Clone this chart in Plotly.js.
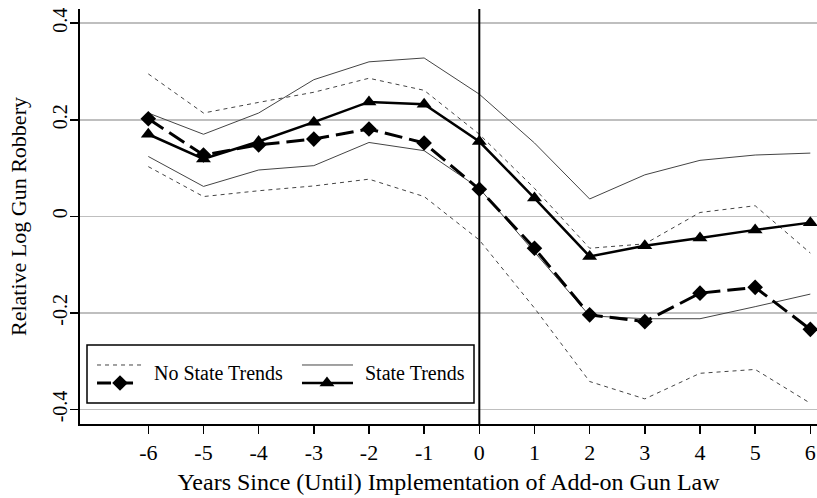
<!DOCTYPE html>
<html>
<head>
<meta charset="utf-8">
<script src="https://cdn.plot.ly/plotly-3.0.1.min.js"></script>
<style>html,body{margin:0;padding:0;background:#fff;}#chart{width:817px;height:498px;}</style>
</head>
<body>
<div id="chart"></div>
<script>
// Years relative to implementation
var years = [-6, -5, -4, -3, -2, -1, 0, 1, 2, 3, 4, 5, 6];
var xTickLabels = ['-6', '-5', '-4', '-3', '-2', '-1', '0', '1', '2', '3', '4', '5', '6'];
var yTickVals = [-0.4, -0.2, 0, 0.2, 0.4];
var yTickLabels = ['-0.4', '-0.2', '0', '0.2', '0.4'];

// No State Trends: estimate and confidence bounds
var noTrendEst   = [0.202, 0.127, 0.148, 0.160, 0.181, 0.152, 0.056, -0.066, -0.204, -0.218, -0.159, -0.147, -0.234];
var noTrendUpper = [0.295, 0.214, 0.236, 0.257, 0.286, 0.261, 0.170, 0.058, -0.066, -0.057, 0.008, 0.022, -0.076];
var noTrendLower = [0.103, 0.041, 0.053, 0.063, 0.077, 0.041, -0.049, -0.190, -0.342, -0.378, -0.325, -0.317, -0.387];

// State Trends: estimate and confidence bounds
var trendEst   = [0.170, 0.119, 0.155, 0.195, 0.237, 0.232, 0.155, 0.038, -0.083, -0.061, -0.045, -0.028, -0.013];
var trendUpper = [0.214, 0.170, 0.214, 0.283, 0.320, 0.328, 0.253, 0.152, 0.036, 0.086, 0.116, 0.127, 0.131];
var trendLower = [0.124, 0.062, 0.096, 0.105, 0.153, 0.136, 0.058, -0.073, -0.206, -0.212, -0.212, -0.187, -0.161];

var legendNames = ['No State Trends', 'State Trends'];

var FONT = 'Liberation Serif, Times New Roman, serif';
var thinColor = '#444444';

var traces = [
  {x: years, y: noTrendUpper, mode: 'lines', line: {color: thinColor, width: 1, dash: '4px,4px'}, showlegend: false, hoverinfo: 'skip'},
  {x: years, y: noTrendLower, mode: 'lines', line: {color: thinColor, width: 1, dash: '4px,4px'}, showlegend: false, hoverinfo: 'skip'},
  {x: years, y: trendUpper, mode: 'lines', line: {color: thinColor, width: 1}, showlegend: false, hoverinfo: 'skip'},
  {x: years, y: trendLower, mode: 'lines', line: {color: thinColor, width: 1}, showlegend: false, hoverinfo: 'skip'},
  {x: years, y: noTrendEst, mode: 'lines+markers', name: legendNames[0],
   line: {color: '#000', width: 3, dash: '18px,7px'},
   marker: {symbol: 'diamond', size: 12, color: '#000'}, showlegend: false},
  {x: years, y: trendEst, mode: 'lines+markers', name: legendNames[1],
   line: {color: '#000', width: 2.5},
   marker: {symbol: 'triangle-up', size: 13, color: '#000'}, showlegend: false},
  // legend markers (overlay axes spanning the plot area 0..1)
  {x: [0.0543], y: [0.0988], xaxis: 'x2', yaxis: 'y2', mode: 'markers',
   marker: {symbol: 'diamond', size: 12, color: '#000'}, showlegend: false, hoverinfo: 'skip'},
  {x: [0.3351], y: [0.0988], xaxis: 'x2', yaxis: 'y2', mode: 'markers',
   marker: {symbol: 'triangle-up', size: 13, color: '#000'}, showlegend: false, hoverinfo: 'skip'}
];

var layout = {
  width: 817, height: 498,
  margin: {l: 80, r: 0, t: 9, b: 74},
  paper_bgcolor: '#fff', plot_bgcolor: '#fff',
  showlegend: false,
  font: {family: FONT, color: '#000'},
  xaxis: {
    range: [-7.238, 6.121], tickvals: years, ticktext: xTickLabels,
    showgrid: false, zeroline: false,
    showline: true, linecolor: '#000', linewidth: 2,
    ticks: 'outside', ticklen: 8, tickwidth: 1.5, tickcolor: '#000',
    tickfont: {family: FONT, size: 22, color: '#000'},
    title: {text: 'Years Since (Until) Implementation of Add-on Gun Law', font: {family: FONT, size: 24, color: '#000'}, standoff: 9},
    automargin: false
  },
  yaxis: {
    range: [-0.430, 0.4294], tickvals: yTickVals, ticktext: yTickLabels,
    showgrid: true, gridcolor: '#bfbfbf', gridwidth: 1.5, zeroline: false,
    showline: true, linecolor: '#000', linewidth: 2,
    ticks: 'outside', ticklen: 8, tickwidth: 1.5, tickcolor: '#000',
    tickangle: -90, ticklabelstandoff: -5,
    tickfont: {family: FONT, size: 20, color: '#000'},
    title: {text: 'Relative Log Gun Robbery', font: {family: FONT, size: 22, color: '#000'}, standoff: 16},
    automargin: false
  },
  xaxis2: {overlaying: 'x', range: [0, 1], visible: false, fixedrange: true},
  yaxis2: {overlaying: 'y', range: [0, 1], visible: false, fixedrange: true},
  shapes: [
    {type: 'line', xref: 'x', yref: 'paper', x0: 0, x1: 0, y0: 0, y1: 1, line: {color: '#000', width: 2}, layer: 'above'},
    // legend box
    {type: 'rect', xref: 'paper', yref: 'paper', x0: 0.0095, x1: 0.5346, y0: 0.0506, y1: 0.1904, fillcolor: '#fff', line: {color: '#000', width: 1.5}, layer: 'between'},
    {type: 'line', xref: 'paper', yref: 'paper', x0: 0.0231, x1: 0.0828, y0: 0.1422, y1: 0.1422, line: {color: thinColor, width: 1, dash: '4px,4px'}, layer: 'between'},
    {type: 'line', xref: 'paper', yref: 'paper', x0: 0.0231, x1: 0.0828, y0: 0.0988, y1: 0.0988, line: {color: '#000', width: 3, dash: '14px,8px'}, layer: 'between'},
    {type: 'line', xref: 'paper', yref: 'paper', x0: 0.3012, x1: 0.3704, y0: 0.1422, y1: 0.1422, line: {color: thinColor, width: 1}, layer: 'between'},
    {type: 'line', xref: 'paper', yref: 'paper', x0: 0.3012, x1: 0.3704, y0: 0.0988, y1: 0.0988, line: {color: '#000', width: 2.5}, layer: 'between'}
  ],
  annotations: [
    {xref: 'paper', yref: 'paper', x: 0.0977, y: 0.1229, xanchor: 'left', yanchor: 'middle', showarrow: false, text: legendNames[0], font: {family: FONT, size: 20, color: '#000'}},
    {xref: 'paper', yref: 'paper', x: 0.384, y: 0.1229, xanchor: 'left', yanchor: 'middle', showarrow: false, text: legendNames[1], font: {family: FONT, size: 20, color: '#000'}}
  ]
};

Plotly.newPlot('chart', traces, layout, {displayModeBar: false, staticPlot: true});
</script>
</body>
</html>
